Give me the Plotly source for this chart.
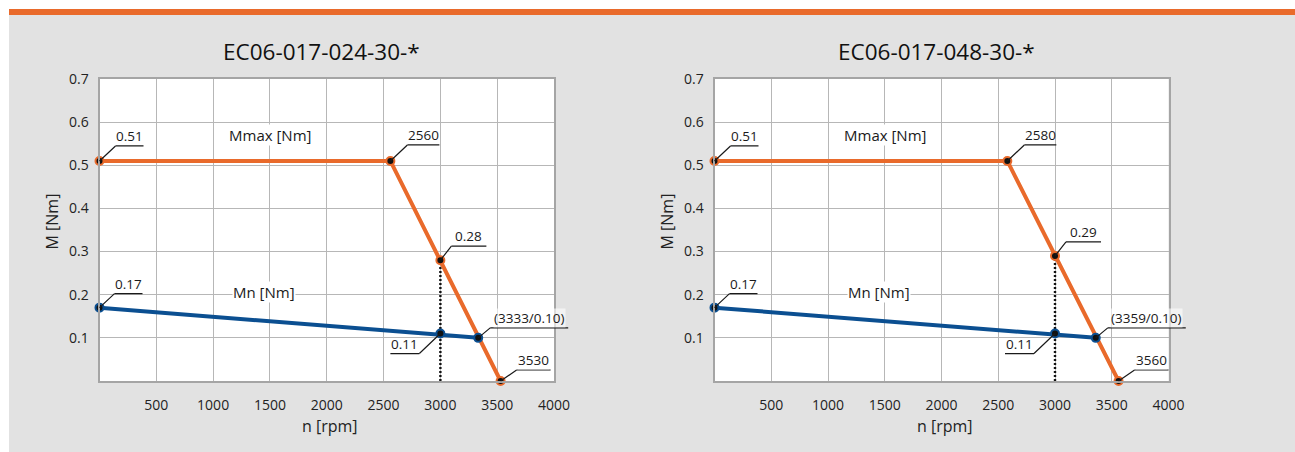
import plotly.graph_objects as go
from plotly.subplots import make_subplots

# ---------------- data ----------------
titles = ["EC06-017-024-30-*", "EC06-017-048-30-*"]

mmax_speed_024 = [0, 2560, 3530]
mmax_torque_024 = [0.51, 0.51, 0.0]
mn_speed_024 = [0, 3333]
mn_torque_024 = [0.17, 0.10]

mmax_speed_048 = [0, 2580, 3560]
mmax_torque_048 = [0.51, 0.51, 0.0]
mn_speed_048 = [0, 3359]
mn_torque_048 = [0.17, 0.10]

check_speed = [3000, 3000]
check_mmax = [0.28, 0.29]
check_mn = [0.11, 0.11]

x_ticks = [500, 1000, 1500, 2000, 2500, 3000, 3500, 4000]
y_ticks = [0.1, 0.2, 0.3, 0.4, 0.5, 0.6, 0.7]
y_tick_text = ["0.1", "0.2", "0.3", "0.4", "0.5", "0.6", "0.7"]

x_title = "n [rpm]"
y_title = "M [Nm]"
mmax_name = "Mmax [Nm]"
mn_name = "Mn [Nm]"

# ---------------- style ----------------
ORANGE = "#e96a2b"
BLUE = "#0b4f91"
GREY_BG = "#e2e2e2"
GRID = "#b7b7b7"
BORDER = "#a5a5a5"
FONT = "Open Sans"
W, H = 1295, 452

fig = make_subplots(rows=1, cols=2)

curves = [
    (mmax_speed_024, mmax_torque_024, mn_speed_024, mn_torque_024),
    (mmax_speed_048, mmax_torque_048, mn_speed_048, mn_torque_048),
]

marker_orange = dict(size=8, color="#111111", line=dict(color=ORANGE, width=2))
marker_blue = dict(size=8, color="#111111", line=dict(color=BLUE, width=2))

for i, (sx, sy, nx, ny) in enumerate(curves):
    col = i + 1
    # dotted check line
    fig.add_trace(go.Scatter(x=[check_speed[i], check_speed[i]], y=[0, check_mmax[i]],
                             mode="lines",
                             line=dict(color="#111111", width=2.4, dash="2px,2px"),
                             showlegend=False, hoverinfo="skip"), row=1, col=col)
    fig.add_trace(go.Scatter(x=sx, y=sy, mode="lines", line=dict(color=ORANGE, width=4),
                             showlegend=False), row=1, col=col)
    fig.add_trace(go.Scatter(x=nx, y=ny, mode="lines", line=dict(color=BLUE, width=4),
                             showlegend=False), row=1, col=col)
    fig.add_trace(go.Scatter(x=sx + [check_speed[i]], y=sy + [check_mmax[i]], mode="markers",
                             marker=marker_orange, showlegend=False, cliponaxis=False),
                  row=1, col=col)
    fig.add_trace(go.Scatter(x=nx + [check_speed[i]], y=ny + [check_mn[i]], mode="markers",
                             marker=marker_blue, showlegend=False, cliponaxis=False),
                  row=1, col=col)

# domains (paper fractions)
dom_x = [[99.5 / W, 554 / W], [714.5 / W, 1168.5 / W]]
dom_y = [1 - 381 / H, 1 - 79 / H]

axis_font = dict(family=FONT, size=14, color="#222222")
for i in range(2):
    xa = "xaxis" if i == 0 else "xaxis2"
    ya = "yaxis" if i == 0 else "yaxis2"
    fig.layout[xa].update(domain=dom_x[i], range=[0, 4000], tickvals=x_ticks,
                          showgrid=True, gridcolor=GRID, gridwidth=1.4,
                          showline=True, linecolor=BORDER, linewidth=2, mirror=True,
                          zeroline=False, ticks="", tickfont=axis_font,
                          ticklabelstandoff=10, fixedrange=True, automargin=False)
    fig.layout[ya].update(domain=dom_y, range=[0, 0.7], tickvals=y_ticks, ticktext=y_tick_text,
                          showgrid=True, gridcolor=GRID, gridwidth=1.4,
                          showline=True, linecolor=BORDER, linewidth=2, mirror=True,
                          zeroline=False, ticks="", tickfont=axis_font,
                          ticklabelstandoff=6, fixedrange=True, automargin=False)

annotations = []
LBL = dict(family=FONT, size=13.5, color="#1a1a1a")


def leader(xr, yr, x, y, text, dx, dy, length, bg=None):
    # diagonal part
    annotations.append(dict(x=x, y=y, xref=xr, yref=yr, text="", showarrow=True,
                            arrowhead=0, arrowwidth=1.2, arrowcolor="#1a1a1a",
                            ax=dx, ay=-dy, standoff=0, startstandoff=0,
                            borderpad=0, borderwidth=0))
    # underline
    annotations.append(dict(x=x, y=y, xref=xr, yref=yr, text="", showarrow=True,
                            arrowhead=0, arrowwidth=1.2, arrowcolor="#1a1a1a",
                            xshift=dx, yshift=dy, ax=length, ay=0, standoff=0,
                            startstandoff=0, borderpad=0, borderwidth=0))
    lab = dict(x=x, y=y, xref=xr, yref=yr, text=text, showarrow=False,
               xshift=dx + length / 2, yshift=dy, xanchor="center", yanchor="bottom",
               font=LBL, borderpad=0)
    if bg:
        lab["bgcolor"] = bg
    annotations.append(lab)


for i, (sx, sy, nx, ny) in enumerate(curves):
    xr = "x" if i == 0 else "x2"
    yr = "y" if i == 0 else "y2"
    leader(xr, yr, sx[0], sy[0], f"{sy[0]:.2f}", 16, 15, 28)
    leader(xr, yr, nx[0], ny[0], f"{ny[0]:.2f}", 15, 14, 28)
    leader(xr, yr, sx[1], sy[1], f"{sx[1]}", 17, 16, 32)
    leader(xr, yr, check_speed[i], check_mmax[i], f"{check_mmax[i]:.2f}", 11, 14, 35)
    leader(xr, yr, check_speed[i], check_mn[i], f"{check_mn[i]:.2f}", -21, -20, -29)
    leader(xr, yr, nx[1], ny[1], f"({nx[1]}/{ny[1]:.2f})", 12, 10, 78,
           bg="rgba(255,255,255,0.6)")
    leader(xr, yr, sx[2], sy[2], f"{sx[2]}", 16, 11, 34, bg="rgba(255,255,255,0.6)")

    # curve names
    annotations.append(dict(x=1500, y=0.571, xref=xr, yref=yr, text=mmax_name, showarrow=False,
                            font=dict(family=FONT, size=15, color="#1a1a1a"),
                            bgcolor="white", borderpad=0))
    annotations.append(dict(x=1450, y=0.207, xref=xr, yref=yr, text=mn_name, showarrow=False,
                            font=dict(family=FONT, size=15, color="#1a1a1a"),
                            bgcolor="white", borderpad=0))

    # chart title
    annotations.append(dict(x=0.5, y=1 - 52 / H, xref=f"{xr} domain", yref="paper",
                            text=titles[i], showarrow=False, yanchor="middle", xshift=-5,
                            font=dict(family=FONT, size=22.5, color="#111111")))
    # axis titles
    annotations.append(dict(x=0.5, y=0, xref=f"{xr} domain", yref=f"{yr} domain",
                            text=x_title, showarrow=False, yanchor="middle", yshift=-45,
                            xshift=3,
                            font=dict(family=FONT, size=16, color="#222222")))
    annotations.append(dict(x=0, y=0.5, xref=f"{xr} domain", yref=f"{yr} domain",
                            text=y_title, showarrow=False, textangle=-90, xanchor="center",
                            xshift=-48, yshift=8,
                            font=dict(family=FONT, size=16, color="#222222")))

shapes = [
    dict(type="rect", xref="paper", yref="paper", x0=0, x1=9 / W, y0=0, y1=1,
         fillcolor="white", line=dict(width=0), layer="below"),
    dict(type="rect", xref="paper", yref="paper", x0=0, x1=1, y0=1 - 9 / H, y1=1,
         fillcolor="white", line=dict(width=0), layer="below"),
    dict(type="rect", xref="paper", yref="paper", x0=9 / W, x1=1, y0=1 - 15 / H, y1=1 - 9 / H,
         fillcolor=ORANGE, line=dict(width=0), layer="below"),
]

fig.update_layout(width=W, height=H, margin=dict(l=0, r=0, t=0, b=0, autoexpand=False),
                  paper_bgcolor=GREY_BG, plot_bgcolor="white",
                  annotations=annotations, shapes=shapes, showlegend=False,
                  font=dict(family=FONT, color="#222222"))

fig.write_html("out.html", config={"displayModeBar": False},
               post_script="document.body.style.margin='0';document.body.style.padding='0';"
                           "document.body.style.overflow='hidden';")
